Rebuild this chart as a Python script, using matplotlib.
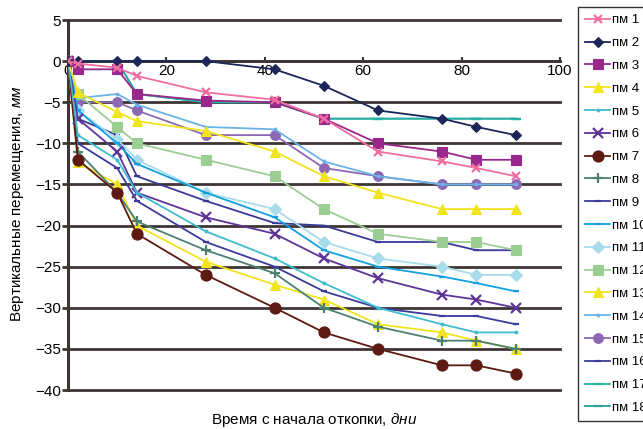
import matplotlib
matplotlib.use("Agg")
import matplotlib.pyplot as plt
from matplotlib import font_manager

names = {f.name for f in font_manager.fontManager.ttflist}
FONT = 'Liberation Sans Narrow' if 'Liberation Sans Narrow' in names else 'Liberation Sans'
plt.rcParams['font.family'] = [FONT, 'DejaVu Sans']
plt.rcParams['mathtext.fontset'] = 'custom'
plt.rcParams['mathtext.rm'] = FONT
plt.rcParams['mathtext.it'] = FONT + ':italic'

days = [0, 2, 10, 14, 28, 42, 52, 63, 76, 83, 91]
labels = ['пм %d' % i for i in range(1, 19)]

pm1 = [0, -0.3, -0.8, -1.8, -3.8, -4.7, -7, -11, -12.2, -13, -14]
pm2 = [0, 0, 0, 0, 0, -1, -3, -6, -7, -8, -9]
pm3 = [0, -1, -1, -4, -4.8, -5, -7, -10, -11, -12, -12]
pm4 = [0, -3.8, -6.2, -7.3, -8.5, -11, -14, -16, -18, -18, -18]
pm5 = [0, -9, -12, -16, -20.7, -24, -27, -30, -32, -33, -33]
pm6 = [0, -7, -11, -16, -19, -21, -24, -26.4, -28.4, -29, -30]
pm7 = [0, -12, -16, -21, -26, -30, -33, -35, -37, -37, -38]
pm8 = [0, -11, -16, -19.5, -23, -25.8, -30, -32.3, -34, -34, -35]
pm9 = [0, -10, -13, -17, -22, -25, -28, -30, -31, -31, -32]
pm10 = [0, -6, -10, -12.5, -16, -19, -23, -25, -26.2, -27, -28]
pm11 = [0, -6, -9.5, -12, -16, -18, -22, -24, -25, -26, -26]
pm12 = [0, -4, -8, -10, -12, -14, -18, -21, -22, -22, -23]
pm13 = [0, -12.3, -15, -20, -24.4, -27.2, -29, -32, -33, -34, -35]
pm14 = [0, -4.5, -4, -5.3, -8, -8.3, -12.2, -14, -15, -15, -15]
pm15 = [0, -5, -5, -6, -9, -9, -13, -14, -15, -15, -15]
pm16 = [0, -7, -9, -14, -17, -19.7, -20, -22, -22, -23, -23]
pm17 = [0, 0, 0, -4, -5, -5, -7, -7, -7, -7, -7]
pm18 = [0, 0, 0, -4, -5, -5, -7, -7, -7, -7, -7]

series = [pm1, pm2, pm3, pm4, pm5, pm6, pm7, pm8, pm9, pm10, pm11, pm12,
          pm13, pm14, pm15, pm16, pm17, pm18]
colors = ['#f06fa0', '#1c2658', '#98288c', '#f2e41c', '#40bcd0', '#5e3596',
          '#5c1a12', '#4c8070', '#3c3a9c', '#12a0e0', '#a8dcea', '#9cce94',
          '#f2e41c', '#6ab4e6', '#8c68b4', '#3a3a98', '#28b0a4', '#2aa39a']
markers = ['x', 'D', 's', '^', '.', 'x', 'o', '+', '_', '_', 'D', 's',
           '^', '.', 'o', '_', '_', '_']
msizes = [6, 5, 7, 7, 4, 7, 8, 7, 5, 5, 6, 7, 7, 4, 7, 5, 7, 7]

fig = plt.figure(figsize=(6.43, 4.29), dpi=100)
ax = fig.add_axes([68/643, 1-390/429, 492/643, 370/429])

draw_order = list(range(18))[::-1]
for i in draw_order:
    ax.plot(days, series[i], color=colors[i], marker=markers[i], ms=msizes[i],
            mew=1.6 if markers[i] in ('x', '+', '_') else 0.8,
            mec=colors[i], lw=1.3, label=labels[i], zorder=3 + (18 - i) * 0.01)

ax.set_xlim(0, 100)
ax.set_ylim(-40, 5)
ax.set_yticks(range(-40, 6, 5))
ax.set_xticks(range(0, 101, 20))
for y in range(-40, 6, 5):
    ax.axhline(y, color='#3d3533', lw=2.0, zorder=1, clip_on=False)

for s in ['top', 'right', 'bottom']:
    ax.spines[s].set_visible(False)
ax.spines['left'].set_color('#3d3533')
ax.spines['left'].set_linewidth(2.2)
ax.spines['bottom'].set_position(('data', 0))
ax.spines['bottom'].set_visible(True)
ax.spines['bottom'].set_color('#3d3533')
ax.spines['bottom'].set_linewidth(2.0)
ax.tick_params(axis='y', length=4, width=2, color='#3d3533', labelsize=11, pad=1)
ax.tick_params(axis='x', length=3, width=1.5, color='#3d3533', direction='in',
               labelsize=11, pad=2)
ax.set_facecolor('none')

fig.text(18/643, 1-204/429, 'Вертикальные перемещения, $\\mathit{мм}$',
         rotation=90, ha='center', va='center', fontsize=11)
fig.text(314/643, 1-420/429, 'Время с начала откопки, $\\mathit{дни}$',
         ha='center', va='center', fontsize=11)

handles, labs = ax.get_legend_handles_labels()
order = [labs.index(l) for l in labels]
leg = fig.legend([handles[k] for k in order], [labs[k] for k in order],
                 loc='upper left', bbox_to_anchor=(578/643, 1-7/429),
                 frameon=True, fontsize=9.5, labelspacing=0.8, handlelength=1.9,
                 handletextpad=0.12, borderpad=0.55, borderaxespad=0, fancybox=False)
leg.get_frame().set_edgecolor('black')
leg.get_frame().set_linewidth(1.0)

fig.savefig('out.png', dpi=100)
